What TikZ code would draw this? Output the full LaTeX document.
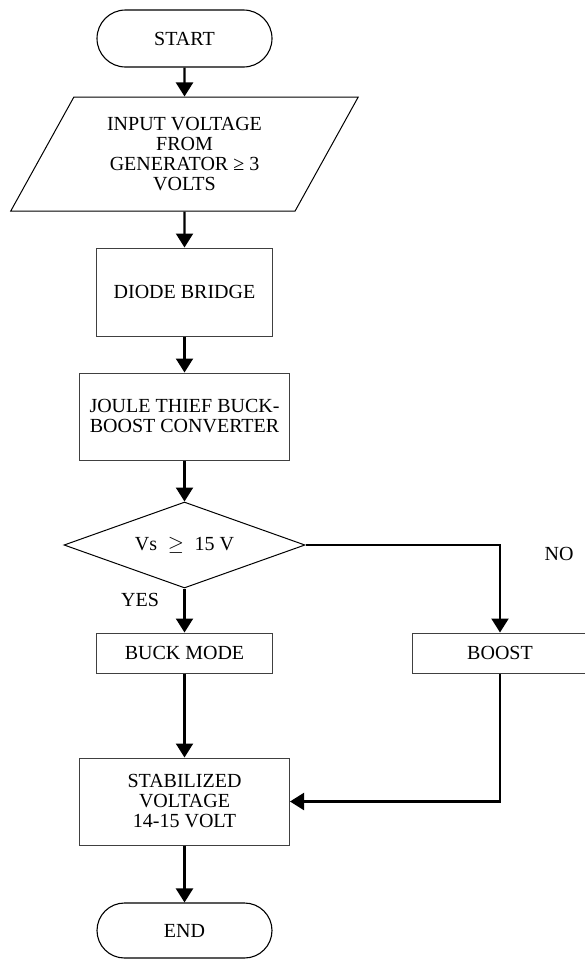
\documentclass[tikz,border=0pt]{standalone}
\usepackage{fontspec}
\setmainfont{Liberation Serif}
\usetikzlibrary{arrows.meta,positioning,shapes.geometric,shapes.misc}

\begin{document}
\begin{tikzpicture}[
    x=1pt, y=-1pt,
    font=\fontsize{20}{20}\selectfont,
    terminal/.style={rounded rectangle, draw, line width=1.1pt, minimum width=175pt, minimum height=57pt, inner sep=0pt},
    process/.style={rectangle, draw=black!75, line width=1pt, align=center, inner sep=0pt},
    io/.style={trapezium, trapezium left angle=59, trapezium right angle=121, trapezium stretches=true, draw, line width=1pt, align=center, minimum width=348pt, minimum height=114pt, inner sep=0pt},
    decision/.style={diamond, draw, line width=1pt, aspect=2.8, minimum width=241pt, minimum height=86pt, inner sep=0pt},
    flow/.style={-{Triangle[length=14pt, width=17pt]}, line width=2.2pt},
    label/.style={inner sep=0pt}
  ]
  \useasboundingbox (0,0) rectangle (584,959);

  % Start and input
  \node[terminal] (start) at (184.5,38.5) {START};
  \node[io] (input) at (184.5,154) {INPUT VOLTAGE\\FROM\\GENERATOR ≥ 3\\VOLTS};

  % Conversion stages
  \node[process, minimum width=176pt, minimum height=88pt] (diode) at (184.5,292) {DIODE BRIDGE};
  \node[process, minimum width=210pt, minimum height=87pt] (joule) at (184.5,416.5) {JOULE THIEF BUCK-\\BOOST CONVERTER};

  % Voltage check
  \node[decision] (check) at (184.5,545) {Vs $\;\geq\;$ 15 V};

  % Two modes
  \node[process, minimum width=176pt, minimum height=40pt] (buck) at (184.5,653) {BUCK MODE};
  \node[process, minimum width=176pt, minimum height=40pt] (boost) at (500,653) {BOOST};

  % Output and end
  \node[process, minimum width=210pt, minimum height=87pt] (stab) at (184.5,801.5) {STABILIZED\\VOLTAGE\\14-15 VOLT};
  \node[terminal, minimum height=55pt] (end) at (184.5,930.5) {END};

  % Branch labels
  \node[label] (yes) at (140,600) {YES};
  \node[label] (no) at (559,554) {NO};

  % Main flow
  \draw[flow] (start) -- (input);
  \draw[flow] (input) -- (diode);
  \draw[flow] (diode) -- (joule);
  \draw[flow] (joule) -- (check);
  \draw[flow] (check) -- (buck);
  \draw[flow] (check.east) -| (boost.north);
  \draw[flow] (buck) -- (stab);
  \draw[flow] (boost.south) |- (stab.east);
  \draw[flow] (stab) -- (end);
\end{tikzpicture}
\end{document}
